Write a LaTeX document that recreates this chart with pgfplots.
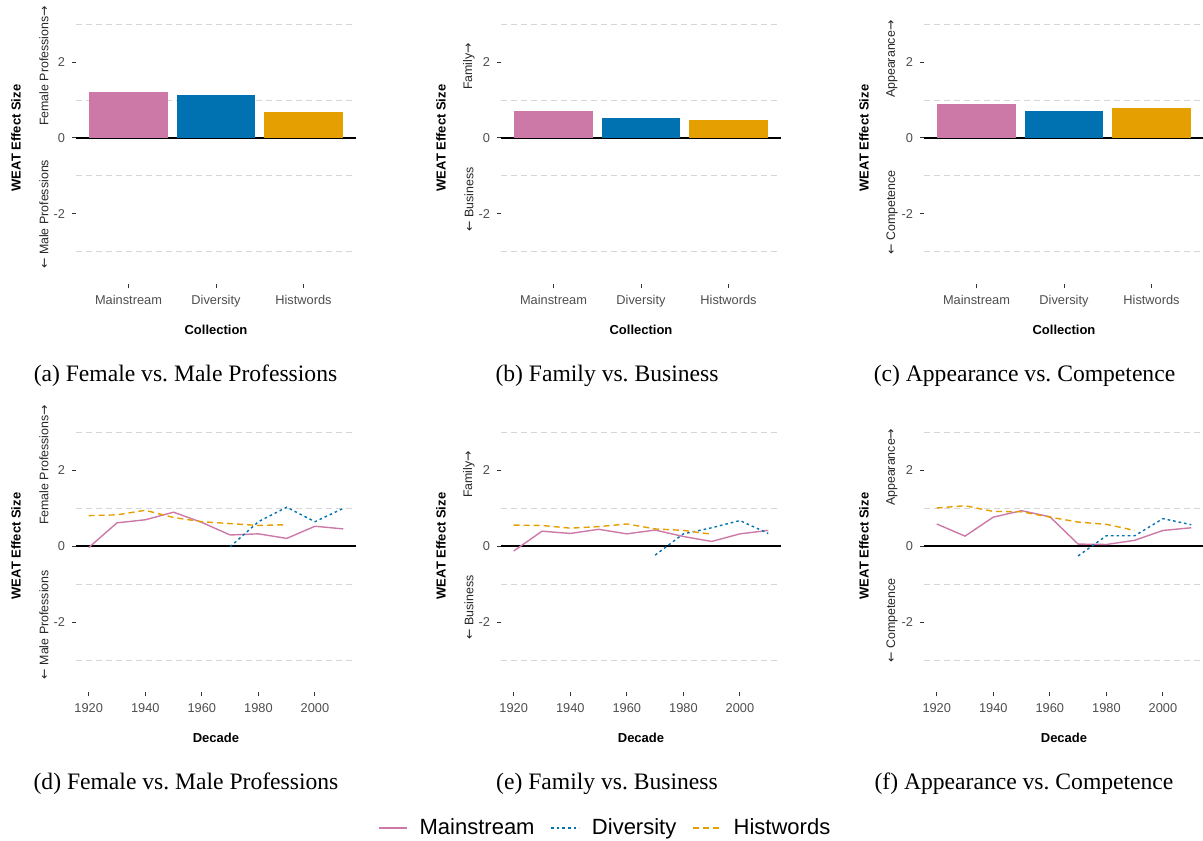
\documentclass[border=0pt]{standalone}
\usepackage{fontspec}
\setmainfont{Liberation Sans}
\newfontfamily\capfont{Liberation Serif}
\newfontfamily\arr{DejaVu Sans}
\usepackage{pgfplots}
\pgfplotsset{compat=1.18}
\frenchspacing
\definecolor{cmain}{HTML}{CC79A7}
\definecolor{cdiv}{HTML}{0072B2}
\definecolor{chist}{HTML}{E69F00}
\definecolor{tickgray}{HTML}{4D4D4D}
\definecolor{gridgray}{HTML}{D6D6D6}
\pgfplotsset{
 weat/.style={
  scale only axis, width=140pt, height=146.3pt,
  ymin=-3.85, ymax=3.85,
  axis line style={draw=none},
  tick pos=left, tick align=outside,
  major tick length=2pt, minor tick length=0pt,
  tick style={color=black!80, line width=0.5pt},
  ytick={-2,0,2}, yticklabels={-2,0,2},
  minor ytick={-3,-1,1,3},
  yminorgrids,
  minor grid style={gridgray, dash pattern=on 3pt off 2pt, line width=0.5pt},
  extra y ticks={0}, extra y tick labels={},
  extra y tick style={grid=major, major grid style={black, line width=0.7pt}, major tick length=0pt},
  ticklabel style={font=\fontsize{6.4}{7}\selectfont, text=tickgray},
  clip=false,
 },
 barax/.style={weat, xmin=-0.6, xmax=2.6, xtick={0,1,2}, xticklabels={Mainstream,Diversity,Histwords}},
 lineax/.style={weat, xmin=1915.5, xmax=2014.5, xtick={1920,1940,1960,1980,2000}, xticklabels={1920,1940,1960,1980,2000}},
 mainst/.style={cmain, line width=0.7pt},
 divst/.style={cdiv, line width=0.7pt, dash pattern=on 1.3pt off 1.5pt},
 histst/.style={chist, line width=0.7pt, dash pattern=on 3pt off 2pt},
}
\newcommand{\labs}[5]{%
  \node[rotate=90, font=\bfseries\fontsize{6.5}{7}\selectfont] at ([xshift=-30pt]axis description cs:0,0.5) {WEAT Effect Size};
  \node[rotate=90, anchor=east, font=\fontsize{6.2}{7}\selectfont, text=black!85] at ([xshift=-16pt]axis description cs:0,#1) {{\arr ←} #2};
  \node[rotate=90, anchor=west, font=\fontsize{6.2}{7}\selectfont, text=black!85] at ([xshift=-16pt]axis description cs:0,#3) {#4{\arr →}};
  \node[font=\bfseries\fontsize{6.5}{7}\selectfont] at ([yshift=-23pt]axis description cs:0.5,0) {#5};
}
\begin{document}
\begin{tikzpicture}
\useasboundingbox (0,0) rectangle (601.5pt,420pt);
% ---------- row 1: bars
\begin{axis}[barax, at={(38pt,277.85pt)}, anchor=south west]
\addplot[ybar, bar width=0.9, bar shift=0pt, fill=cmain, draw=none] coordinates {(0,1.21)};
\addplot[ybar, bar width=0.9, bar shift=0pt, fill=cdiv, draw=none] coordinates {(1,1.13)};
\addplot[ybar, bar width=0.9, bar shift=0pt, fill=chist, draw=none] coordinates {(2,0.68)};
\labs{0.4494}{Male Professions}{0.5169}{Female Professions}{Collection}
\end{axis}
\begin{axis}[barax, at={(250.5pt,277.85pt)}, anchor=south west]
\addplot[ybar, bar width=0.9, bar shift=0pt, fill=cmain, draw=none] coordinates {(0,0.71)};
\addplot[ybar, bar width=0.9, bar shift=0pt, fill=cdiv, draw=none] coordinates {(1,0.53)};
\addplot[ybar, bar width=0.9, bar shift=0pt, fill=chist, draw=none] coordinates {(2,0.47)};
\labs{0.4247}{Business}{0.6403}{Family}{Collection}
\end{axis}
\begin{axis}[barax, at={(462pt,277.85pt)}, anchor=south west]
\addplot[ybar, bar width=0.9, bar shift=0pt, fill=cmain, draw=none] coordinates {(0,0.89)};
\addplot[ybar, bar width=0.9, bar shift=0pt, fill=cdiv, draw=none] coordinates {(1,0.71)};
\addplot[ybar, bar width=0.9, bar shift=0pt, fill=chist, draw=none] coordinates {(2,0.79)};
\labs{0.4143}{Competence}{0.613}{Appearance}{Collection}
\end{axis}
% ---------- row 2: lines
\begin{axis}[lineax, at={(38pt,73.85pt)}, anchor=south west]
\addplot[mainst] coordinates {(1920,-0.04) (1930,0.61) (1940,0.69) (1950,0.89) (1960,0.62) (1970,0.29) (1980,0.32) (1990,0.20) (2000,0.52) (2010,0.45)};
\addplot[divst] coordinates {(1970,-0.02) (1980,0.64) (1990,1.02) (2000,0.64) (2010,0.99)};
\addplot[histst] coordinates {(1920,0.80) (1930,0.82) (1940,0.94) (1950,0.75) (1960,0.64) (1970,0.59) (1980,0.54) (1990,0.56)};
\labs{0.4416}{Male Professions}{0.5481}{Female Professions}{Decade}
\end{axis}
\begin{axis}[lineax, at={(250.5pt,73.85pt)}, anchor=south west,
  legend style={at={(0.376,-0.464)}, anchor=center, draw=none, fill=none, legend columns=3,
    font=\fontsize{11}{13}\selectfont,
    /tikz/every odd column/.append style={column sep=4pt},
    /tikz/every even column/.append style={column sep=6pt}},
  legend image code/.code={\draw[#1] (0pt,0pt) -- (14pt,0pt);}]
\addplot[mainst] coordinates {(1920,-0.13) (1930,0.39) (1940,0.33) (1950,0.44) (1960,0.32) (1970,0.42) (1980,0.25) (1990,0.12) (2000,0.32) (2010,0.41)};
\addlegendentry{Mainstream}
\addplot[divst] coordinates {(1970,-0.24) (1980,0.32) (1990,0.48) (2000,0.67) (2010,0.33)};
\addlegendentry{Diversity}
\addplot[histst] coordinates {(1920,0.55) (1930,0.54) (1940,0.47) (1950,0.51) (1960,0.58) (1970,0.45) (1980,0.41) (1990,0.31)};
\addlegendentry{Histwords}
\labs{0.4247}{Business}{0.6403}{Family}{Decade}
\end{axis}
\begin{axis}[lineax, at={(462pt,73.85pt)}, anchor=south west]
\addplot[mainst] coordinates {(1920,0.58) (1930,0.26) (1940,0.76) (1950,0.93) (1960,0.77) (1970,0.05) (1980,0.04) (1990,0.15) (2000,0.41) (2010,0.48)};
\addplot[divst] coordinates {(1970,-0.26) (1980,0.27) (1990,0.27) (2000,0.72) (2010,0.56)};
\addplot[histst] coordinates {(1920,1.00) (1930,1.06) (1940,0.91) (1950,0.90) (1960,0.76) (1970,0.63) (1980,0.57) (1990,0.41)};
\labs{0.4143}{Competence}{0.613}{Appearance}{Decade}
\end{axis}
% ---------- subcaptions
\begin{scope}[every node/.style={font=\capfont\fontsize{11.8}{14}\selectfont}]
\node at (92.75pt,232pt) {(a) Female vs. Male Professions};
\node at (303.5pt,232pt) {(b) Family vs. Business};
\node at (512.25pt,232pt) {(c) Appearance vs. Competence};
\node at (93pt,28pt) {(d) Female vs. Male Professions};
\node at (303.5pt,28pt) {(e) Family vs. Business};
\node at (512pt,28pt) {(f) Appearance vs. Competence};
\end{scope}
\end{tikzpicture}
\end{document}
